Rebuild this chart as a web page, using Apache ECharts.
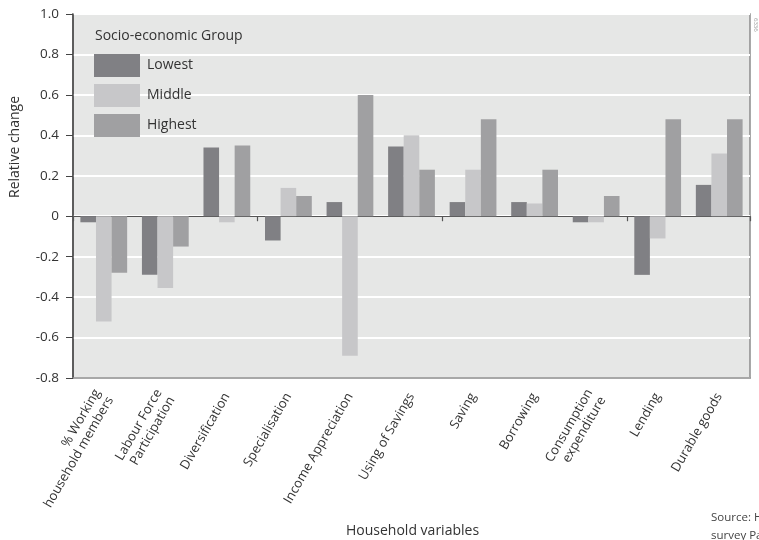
<!DOCTYPE html>
<html>
<head>
<meta charset="utf-8">
<script src="https://cdn.jsdelivr.net/npm/echarts@6/dist/echarts.min.js"></script>
<style>
html,body{margin:0;padding:0;background:#fff;}
#chart{width:759px;height:540px;}
</style>
</head>
<body>
<div id="chart"></div>
<script>
var categories = ['% Working\nhousehold members', 'Labour Force\nParticipation', 'Diversification', 'Specialisation', 'Income Appreciation', 'Using of Savings', 'Saving', 'Borrowing', 'Consumption\nexpenditure', 'Lending', 'Durable goods'];
var lowest  = [-0.03, -0.29, 0.34, -0.12, 0.07, 0.345, 0.07, 0.07, -0.03, -0.29, 0.155];
var middle  = [-0.52, -0.355, -0.03, 0.14, -0.69, 0.40, 0.23, 0.063, -0.03, -0.11, 0.31];
var highest = [-0.28, -0.15, 0.35, 0.10, 0.60, 0.23, 0.48, 0.23, 0.10, 0.48, 0.48];
var seriesNames = ['Lowest', 'Middle', 'Highest'];
var yTicks = { min: -0.8, max: 1.0, interval: 0.2 };

var FONT = '"Open Sans", "Noto Sans", sans-serif';
var chart = echarts.init(document.getElementById('chart'), null, { renderer: 'canvas' });
var colors = ['#808084', '#c7c7c9', '#a0a0a2'];
var data = [lowest, middle, highest];

chart.setOption({
  animation: false,
  textStyle: { fontFamily: FONT },
  grid: { left: 73, right: 9, top: 14, bottom: 162, show: true, backgroundColor: '#e6e7e6', borderColor: '#8c8c8c', borderWidth: 1.5 },
  title: {
    text: 'Socio-economic Group', left: 90, top: 24,
    textStyle: { fontFamily: FONT, fontSize: 14, fontWeight: 'normal', color: '#333' }
  },
  legend: {
    orient: 'vertical', left: 89, top: 49, itemWidth: 46, itemHeight: 23, itemGap: 7,
    icon: 'rect', data: seriesNames,
    textStyle: { fontFamily: FONT, fontSize: 14, color: '#333', padding: [0, 0, 0, 2] }
  },
  xAxis: [{
    type: 'category', data: categories, position: 'bottom',
    axisLine: { show: true, onZero: false, lineStyle: { color: '#8c8c8c', width: 1.5 } },
    axisTick: { show: false },
    splitLine: { show: false },
    axisLabel: { interval: 0, rotate: 60, fontSize: 13, color: '#333', fontFamily: FONT, margin: 16, lineHeight: 15 }
  }, {
    type: 'category', data: categories, position: 'top',
    axisLine: { show: true, onZero: true, lineStyle: { color: '#555', width: 1.2 } },
    axisTick: { show: true, inside: true, length: 5, lineStyle: { color: '#555', width: 1.2 } },
    axisLabel: { show: false },
    splitLine: { show: false }
  }],
  yAxis: {
    type: 'value', min: yTicks.min, max: yTicks.max, interval: yTicks.interval,
    axisLine: { show: true, lineStyle: { color: '#444', width: 1.5 } },
    axisTick: { show: true, length: 7, lineStyle: { color: '#444' } },
    splitLine: { show: true, lineStyle: { color: '#ffffff', width: 2 } },
    axisLabel: {
      fontSize: 13.5, color: '#333', fontFamily: FONT, margin: 14,
      formatter: function (v) { return Math.abs(v) < 1e-9 ? '0' : v.toFixed(1); }
    }
  },
  series: seriesNames.map(function (n, i) {
    return {
      name: n, type: 'bar', xAxisIndex: 0, data: data[i],
      barGap: '0%', barCategoryGap: '24%',
      itemStyle: { color: colors[i] }
    };
  }),
  graphic: [
    { type: 'text', left: 8, top: 96, rotation: Math.PI / 2,
      style: { text: 'Relative change', font: '14px ' + FONT, fill: '#333' } },
    { type: 'text', left: 346, top: 524,
      style: { text: 'Household variables', font: '14px ' + FONT, fill: '#333' } },
    { type: 'text', left: 711, top: 509,
      style: { text: 'Source: H\nsurvey Pa', font: '11.5px ' + FONT, fill: '#444', lineHeight: 18 } },
    { type: 'text', left: 753, top: 18, rotation: -Math.PI / 2,
      style: { text: '6336', font: '6px ' + FONT, fill: '#999' } }
  ]
});
</script>
</body>
</html>
